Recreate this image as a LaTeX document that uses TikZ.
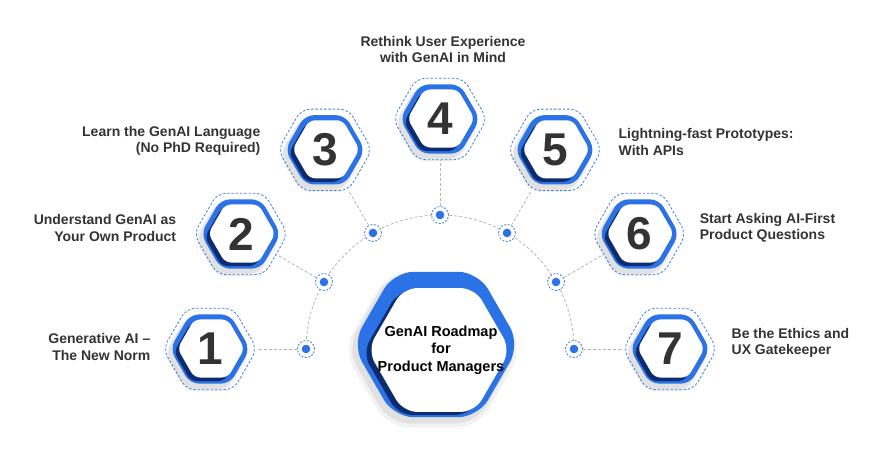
\documentclass[tikz,border=0pt]{standalone}
\usepackage{fontspec}
\setmainfont{Liberation Sans}
\usetikzlibrary{shapes.geometric,positioning,backgrounds,shadows}

\definecolor{hexblue}{HTML}{2A72E5}
\definecolor{hexnavy}{HTML}{0D2C70}
\definecolor{ringblue}{HTML}{3F80E2}
\definecolor{linkgray}{HTML}{B5B5B5}
\definecolor{txtdark}{HTML}{333333}

\begin{document}
\begin{tikzpicture}
[x=1pt, y=1pt,
% STYLES
% soft shadow under the hexagons
softshadow/.style={general shadow={fill=black, opacity=0.05, shadow scale=1.07, shadow xshift=-3pt, shadow yshift=-5pt},
  general shadow={fill=black, opacity=0.07, shadow scale=1.03, shadow xshift=-3pt, shadow yshift=-4pt}},
% numbered hexagon: blue rim, dark inner shade, white face
numhex/.style={regular polygon, regular polygon sides=6, minimum size=80pt, inner sep=0pt, rounded corners=9pt, fill=hexblue, softshadow, text=txtdark, font=\fontsize{46}{46}\selectfont\bfseries,
  path picture={
    \fill[hexnavy, rounded corners=6pt] ([xshift=-2.5pt, yshift=-3pt]path picture bounding box.center) ++(-33.5pt,0pt) -- ++(60:33.5pt) -- ++(0:33.5pt) -- ++(-60:33.5pt) -- ++(-120:33.5pt) -- ++(180:33.5pt) -- cycle;
    \fill[white, rounded corners=6pt] ([xshift=1pt, yshift=0.5pt]path picture bounding box.center) ++(-33.5pt,0pt) -- ++(60:33.5pt) -- ++(0:33.5pt) -- ++(-60:33.5pt) -- ++(-120:33.5pt) -- ++(180:33.5pt) -- cycle;}},
% the big hexagon in the middle
hubhex/.style={regular polygon, regular polygon sides=6, minimum size=168pt, inner sep=0pt, rounded corners=20pt, fill=hexblue, softshadow,
  path picture={
    \fill[hexnavy, rounded corners=14pt] ([xshift=-2pt, yshift=-8.5pt]path picture bounding box.center) ++(-71.5pt,0pt) -- ++(60:71.5pt) -- ++(0:71.5pt) -- ++(-60:71.5pt) -- ++(-120:71.5pt) -- ++(180:71.5pt) -- cycle;
    \fill[white, rounded corners=14pt] ([xshift=3pt, yshift=-5.5pt]path picture bounding box.center) ++(-71.5pt,0pt) -- ++(60:71.5pt) -- ++(0:71.5pt) -- ++(-60:71.5pt) -- ++(-120:71.5pt) -- ++(180:71.5pt) -- cycle;}},
% dashed outline round each numbered hexagon
hexring/.style={regular polygon, regular polygon sides=6, minimum size=94pt, inner sep=0pt, draw=ringblue, line width=0.8pt, dash pattern=on 2.5pt off 1.8pt, rounded corners=9pt},
% small dot on the arc
pin/.style={circle, minimum size=17pt, inner sep=0pt, draw=ringblue, fill=white, line width=0.8pt, dash pattern=on 2pt off 1.5pt,
  path picture={\fill[hexblue] (path picture bounding box.center) circle[radius=4.3pt];}},
link/.style={draw=linkgray, line width=0.8pt, dash pattern=on 3pt off 2pt},
itemtext/.style={inner sep=0pt, text=txtdark, font=\fontsize{14}{16.5}\selectfont\bfseries}]

\useasboundingbox (-440,-125) rectangle (433,349);

% Draw hexagons
\node [hexring] (o1) at (180:230) {};
\node [numhex] (h1) at (180:230) {1};
\node [hexring] (o2) at (150:230) {};
\node [numhex] (h2) at (150:230) {2};
\node [hexring] (o3) at (120:230) {};
\node [numhex] (h3) at (120:230) {3};
\node [hexring] (o4) at (90:230) {};
\node [numhex] (h4) at (90:230) {4};
\node [hexring] (o5) at (60:230) {};
\node [numhex] (h5) at (60:230) {5};
\node [hexring] (o6) at (30:230) {};
\node [numhex] (h6) at (30:230) {6};
\node [hexring] (o7) at (0:230) {};
\node [numhex] (h7) at (0:230) {7};

\node [hubhex] (hub) at (-4,4.5) {};
\node [font=\fontsize{14.5}{17.5}\selectfont\bfseries, align=center, inner sep=0pt] (title) at (1,-1) {GenAI Roadmap\\for\\Product Managers};

% dots on the arc
\node [pin] (p1) at (180:134) {};
\node [pin] (p2) at (150:134) {};
\node [pin] (p3) at (120:134) {};
\node [pin] (p4) at (90:134) {};
\node [pin] (p5) at (60:134) {};
\node [pin] (p6) at (30:134) {};
\node [pin] (p7) at (0:134) {};

%%%%%%%%%%%%%%%

\node [itemtext, align=right, left=12pt of o1, yshift=2pt] (t1) {Generative AI –\\The New Norm};
\node [itemtext, align=right, left=17pt of o2, yshift=6pt] (t2) {Understand GenAI as\\Your Own Product};
\node [itemtext, align=right, left=17pt of o3, yshift=9pt] (t3) {Learn the GenAI Language\\(No PhD Required)};
\node [itemtext, align=center, above=15pt of o4, xshift=3pt] (t4) {Rethink User Experience\\with GenAI in Mind};
\node [itemtext, align=left, right=16pt of o5, yshift=8pt] (t5) {Lightning-fast Prototypes:\\With APIs};
\node [itemtext, align=left, right=13pt of o6, yshift=6pt] (t6) {Start Asking AI-First\\Product Questions};
\node [itemtext, align=left, right=14pt of o7, yshift=6pt] (t7) {Be the Ethics and\\UX Gatekeeper};

%%%%%%%%%%%%%%%%

\begin{scope}[on background layer]
\draw [link] (p1.center) arc [start angle=180, end angle=0, radius=134pt];
\end{scope}

\path[link]
(p1) edge (o1)
(p2) edge (o2)
(p3) edge (o3)
(p4) edge (o4)
(p5) edge (o5)
(p6) edge (o6)
(p7) edge (o7);

\end{tikzpicture}
\end{document}
